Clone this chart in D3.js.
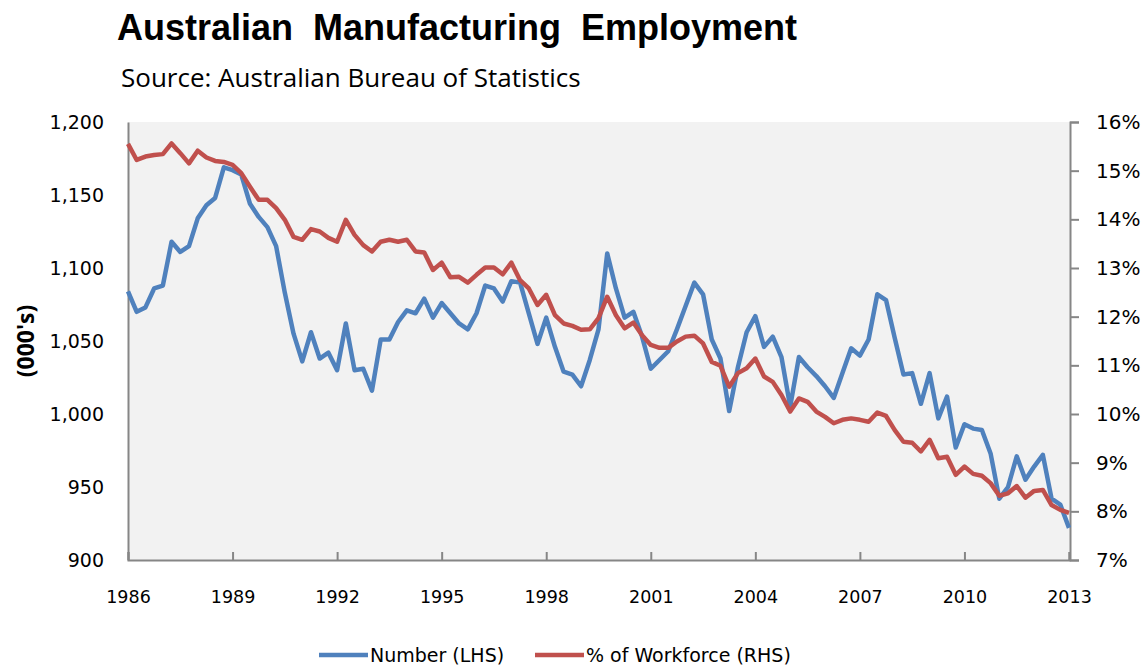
<!DOCTYPE html>
<html>
<head>
<meta charset="utf-8">
<script src="https://cdn.jsdelivr.net/npm/d3@7"></script>
<style>
  html, body { margin: 0; padding: 0; background: #ffffff; }
  svg { display: block; }
</style>
</head>
<body>
<svg id="chart" width="1145" height="666"></svg>
<script>
// ---- Data (quarterly, Feb 1986 .. Feb 2013) ----
const startYear = 1986;
const yearTicks = [1986, 1989, 1992, 1995, 1998, 2001, 2004, 2007, 2010, 2013];
const leftTicks = [900, 950, 1000, 1050, 1100, 1150, 1200];
const rightTicks = [7, 8, 9, 10, 11, 12, 13, 14, 15, 16];

// Number employed in manufacturing (000's) - LHS
const numberLHS = [
  1084, 1070, 1073, 1086, 1088, 1118, 1111, 1115, 1134, 1143, 1148, 1169,
  1167, 1164, 1144, 1135, 1128, 1115, 1083, 1055, 1036, 1056, 1038, 1042,
  1030, 1062, 1030, 1031, 1016, 1051, 1051, 1063, 1071, 1069, 1079, 1066,
  1076, 1069, 1062, 1058, 1069, 1088, 1086, 1077, 1091, 1090, 1069, 1048,
  1066, 1046, 1029, 1027, 1019, 1037, 1058, 1110, 1086, 1066, 1070, 1053,
  1031, 1037, 1043, 1058, 1074, 1090, 1082, 1051, 1038, 1002, 1032, 1056,
  1067, 1046, 1053, 1039, 1005, 1039, 1032, 1026, 1019, 1011, 1028, 1045,
  1040, 1051, 1082, 1078, 1052, 1027, 1028, 1007, 1028, 997, 1012, 977,
  993, 990, 989, 973, 942, 950, 971, 955, 964, 972, 942, 938, 922
];

// Manufacturing share of total employment (%) - RHS
const shareRHS = [
  15.55, 15.22, 15.29, 15.32, 15.34, 15.56, 15.36, 15.15, 15.41, 15.27, 15.20, 15.18,
  15.12, 14.95, 14.67, 14.40, 14.40, 14.23, 13.99, 13.64, 13.58, 13.80, 13.75, 13.62,
  13.54, 13.99, 13.68, 13.47, 13.34, 13.54, 13.58, 13.54, 13.58, 13.34, 13.32, 12.96,
  13.11, 12.81, 12.82, 12.70, 12.86, 13.01, 13.01, 12.87, 13.11, 12.75, 12.58, 12.24,
  12.45, 12.03, 11.86, 11.81, 11.73, 11.74, 11.97, 12.41, 12.03, 11.76, 11.88, 11.62,
  11.42, 11.36, 11.36, 11.49, 11.59, 11.61, 11.45, 11.07, 10.99, 10.56, 10.84, 10.94,
  11.14, 10.77, 10.66, 10.39, 10.05, 10.32, 10.25, 10.05, 9.94, 9.81, 9.88, 9.91,
  9.88, 9.84, 10.03, 9.96, 9.67, 9.43, 9.41, 9.23, 9.47, 9.09, 9.12, 8.75,
  8.92, 8.77, 8.73, 8.58, 8.32, 8.37, 8.52, 8.28, 8.42, 8.44, 8.13, 8.03, 7.97
];

const seriesNames = ["Number (LHS)", "% of Workforce (RHS)"];
const seriesColors = ["#4f81bd", "#c0504d"];

// ---- Layout ----
const svg = d3.select("#chart");
const plot = { left: 128, right: 1070, top: 122, bottom: 560 };
const axisColor = "#868686";
const textColor = "#000000";
const tickFont = "'DejaVu Sans', Verdana, sans-serif";
const bodyFont = "'Open Sans', 'Liberation Sans', Arial, sans-serif";

const n = numberLHS.length;
const x = d3.scaleLinear().domain([0, n - 1]).range([plot.left, plot.right - 1]);
const yL = d3.scaleLinear().domain([900, 1200]).range([plot.bottom, plot.top]);
const yR = d3.scaleLinear().domain([7, 16]).range([plot.bottom, plot.top]);

// plot background
svg.append("rect")
  .attr("x", plot.left).attr("y", plot.top)
  .attr("width", plot.right - plot.left).attr("height", plot.bottom - plot.top)
  .attr("fill", "#f2f2f2");

// Title & subtitle
svg.append("text")
  .attr("x", 117).attr("y", 40)
  .attr("font-family", "'Liberation Sans', Arial, sans-serif")
  .attr("font-weight", "bold")
  .attr("font-size", 36)
  .attr("fill", textColor)
  .style("white-space", "pre")
  .text("Australian  Manufacturing  Employment");

svg.append("text")
  .attr("x", 121).attr("y", 87)
  .attr("font-family", bodyFont)
  .attr("font-size", 26)
  .attr("fill", textColor)
  .text("Source: Australian Bureau of Statistics");

// Left axis (no tick marks)
const gL = svg.append("g").attr("transform", `translate(${plot.left},0)`)
  .call(d3.axisLeft(yL).tickValues(leftTicks).tickSize(0).tickPadding(24)
    .tickFormat(d3.format(",")));
gL.select(".domain").attr("stroke", axisColor).attr("stroke-width", 2);
gL.selectAll("text").attr("font-family", tickFont).attr("font-size", 19).attr("fill", textColor);

// Right axis
const gR = svg.append("g").attr("transform", `translate(${plot.right},0)`)
  .call(d3.axisRight(yR).tickValues(rightTicks).tickSize(9).tickPadding(17)
    .tickFormat(d => d + "%"));
gR.select(".domain").attr("stroke", axisColor).attr("stroke-width", 2);
gR.selectAll(".tick line").attr("stroke", axisColor).attr("stroke-width", 2);
gR.selectAll("text").attr("font-family", tickFont).attr("font-size", 20).attr("fill", textColor);

// Bottom axis (ticks inside)
const gB = svg.append("g").attr("transform", `translate(0,${plot.bottom})`)
  .call(d3.axisBottom(x)
    .tickValues(yearTicks.map(yv => (yv - startYear) * 4))
    .tickSize(-8).tickPadding(0)
    .tickFormat((d, i) => yearTicks[i]));
gB.select(".domain").attr("stroke", axisColor).attr("stroke-width", 2);
gB.selectAll(".tick line").attr("stroke", axisColor).attr("stroke-width", 2);
gB.selectAll("text").attr("font-family", tickFont).attr("font-size", 17.5).attr("fill", textColor)
  .attr("y", 43).attr("dy", 0);

// Y axis title
svg.append("text")
  .attr("transform", "translate(34,341) rotate(-90)")
  .attr("text-anchor", "middle")
  .attr("font-family", bodyFont)
  .attr("font-weight", "bold")
  .attr("font-size", 23)
  .attr("fill", textColor)
  .text("(000's)");

// Lines
const lineL = d3.line().x((d, i) => x(i)).y(d => yL(d));
const lineR = d3.line().x((d, i) => x(i)).y(d => yR(d));

svg.append("path").datum(numberLHS)
  .attr("d", lineL).attr("fill", "none")
  .attr("stroke", seriesColors[0]).attr("stroke-width", 4.5)
  .attr("stroke-linejoin", "round");

svg.append("path").datum(shareRHS)
  .attr("d", lineR).attr("fill", "none")
  .attr("stroke", seriesColors[1]).attr("stroke-width", 4.5)
  .attr("stroke-linejoin", "round");

// Legend
const legend = [
  { x1: 319, x2: 368, tx: 370 },
  { x1: 535, x2: 584, tx: 586 }
];
legend.forEach((l, i) => {
  svg.append("line")
    .attr("x1", l.x1).attr("x2", l.x2).attr("y1", 655).attr("y2", 655)
    .attr("stroke", seriesColors[i]).attr("stroke-width", 4.5);
  svg.append("text")
    .attr("x", l.tx).attr("y", 662)
    .attr("font-family", tickFont)
    .attr("font-size", 19)
    .attr("fill", textColor)
    .text(seriesNames[i]);
});
</script>
</body>
</html>
